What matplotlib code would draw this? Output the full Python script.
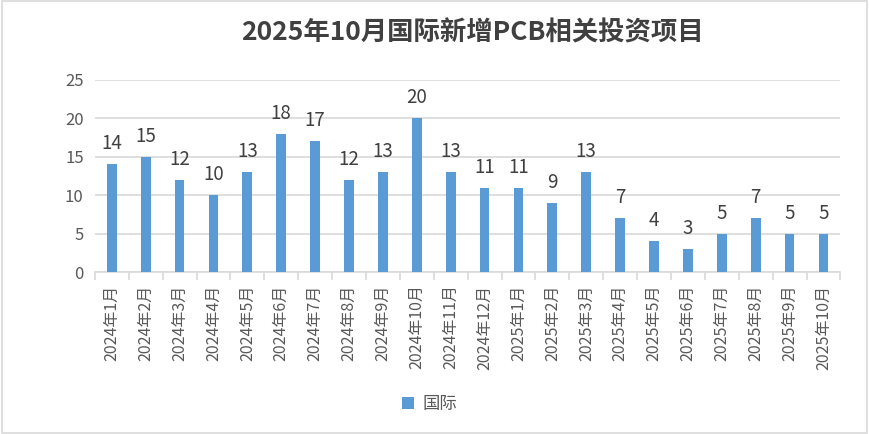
import matplotlib.pyplot as plt
from matplotlib.patches import Rectangle

plt.rcParams['font.family'] = ['Noto Sans CJK SC', 'DejaVu Sans']

# 数据
months = ['2024年1月', '2024年2月', '2024年3月', '2024年4月', '2024年5月',
          '2024年6月', '2024年7月', '2024年8月', '2024年9月', '2024年10月',
          '2024年11月', '2024年12月', '2025年1月', '2025年2月', '2025年3月',
          '2025年4月', '2025年5月', '2025年6月', '2025年7月', '2025年8月',
          '2025年9月', '2025年10月']
counts = [14, 15, 12, 10, 13, 18, 17, 12, 13, 20, 13, 11, 11, 9, 13,
          7, 4, 3, 5, 7, 5, 5]

text_color = '#595959'
grid_color = '#d9d9d9'
bar_color = '#5b9bd5'

fig = plt.figure(figsize=(8.7, 4.34), dpi=100)
ax = fig.add_axes([0.109, 0.373, 0.857, 0.443])

x = list(range(len(months)))
bars = ax.bar(x, counts, width=0.29, color=bar_color, label='国际', zorder=3)

for xi, v in zip(x, counts):
    ax.text(xi, v + 1.3, str(v), ha='center', va='bottom', fontsize=13.5,
            color='#404040')

ax.set_ylim(0, 25)
ax.set_yticks(range(0, 26, 5))
ax.set_xlim(-0.5, len(months) - 0.5)
ax.set_xticks(x)
ax.set_xticklabels(months, rotation=90, fontsize=11.5, color=text_color)
ax.tick_params(axis='x', length=0, pad=9)
ax.tick_params(axis='y', length=0, labelsize=12, labelcolor=text_color, pad=8)
ax.yaxis.grid(True, color=grid_color, linewidth=1.2, zorder=0)

# 类别分隔刻度
ax.set_xticks([i - 0.5 for i in range(len(months) + 1)], minor=True)
ax.tick_params(axis='x', which='minor', length=6, color=grid_color, width=1.2)

for s in ['top', 'right', 'left']:
    ax.spines[s].set_visible(False)
ax.spines['bottom'].set_color(grid_color)
ax.spines['bottom'].set_linewidth(1.2)

fig.text(0.543, 0.924, '2025年10月国际新增PCB相关投资项目', ha='center', va='center',
         fontsize=19, fontweight='bold', color='#404040')

leg = fig.legend(loc='center', bbox_to_anchor=(0.494, 0.068), frameon=False,
                 fontsize=12.5, handlelength=0.7, handleheight=0.7,
                 handletextpad=0.5)
for t in leg.get_texts():
    t.set_color(text_color)

fig.patches.append(Rectangle((0.002, 0.003), 0.995, 0.994, transform=fig.transFigure,
                             fill=False, edgecolor=grid_color, linewidth=1.2))

fig.savefig('out.png', dpi=100)
